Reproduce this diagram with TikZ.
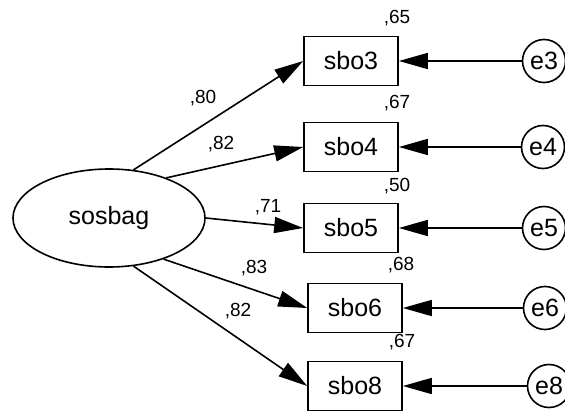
\documentclass[tikz,border=0pt]{standalone}
\usepackage{fontspec}
\setmainfont{Liberation Sans}
\usetikzlibrary{positioning}
\usetikzlibrary{shapes.geometric}
\usetikzlibrary{arrows.meta}

\begin{document}
\begin{tikzpicture}[x=1pt, y=-1pt,
  obs/.style={draw, rectangle, line width=1.6pt, minimum width=94pt, minimum height=49pt, inner sep=0pt, font=\fontsize{25}{25}\selectfont},
  err/.style={draw, circle, line width=1.6pt, minimum size=43pt, inner sep=0pt, font=\fontsize{25}{25}\selectfont},
  lat/.style={draw, ellipse, line width=1.6pt, minimum width=192pt, minimum height=98pt, inner sep=0pt, font=\fontsize{25}{25}\selectfont},
  coef/.style={inner sep=0pt, font=\fontsize{19}{19}\selectfont},
  load/.style={line width=1.6pt, -{Triangle[length=29pt,width=16pt]}}
]
% Set the size of the figure
\useasboundingbox (0,0) rectangle (565,412);

% latent variable
\node[lat] (sosbag) at (109,218) {sosbag};

% observed variables
\node[obs] (sbo3) at (351,61) {sbo3};
\node[obs] (sbo4) at (351,147) {sbo4};
\node[obs] (sbo5) at (351,228) {sbo5};
\node[obs] (sbo6) at (355,308) {sbo6};
\node[obs] (sbo8) at (355,386) {sbo8};

% error terms
\node[err] (e3) at (544,61) {e3};
\node[err] (e4) at (543,147) {e4};
\node[err] (e5) at (544,228) {e5};
\node[err] (e6) at (545,308) {e6};
\node[err] (e8) at (549,386) {e8};

% loadings
\draw[load] (sosbag.63) -- (sbo3.west);
\draw[load] (sosbag.35) -- (sbo4.west);
\draw[load] (sosbag.east) -- (sbo5.west);
\draw[load] (sosbag.-37) -- (sbo6.west);
\draw[load] (sosbag.-63) -- (sbo8.west);

\draw[load] (e3) -- (sbo3);
\draw[load] (e4) -- (sbo4);
\draw[load] (e5) -- (sbo5);
\draw[load] (e6) -- (sbo6);
\draw[load] (e8) -- (sbo8);

% standardized weights
\node[coef] (w3) at (203,98) {,80};
\node[coef] (w4) at (221,144) {,82};
\node[coef] (w5) at (268,207) {,71};
\node[coef] (w6) at (254,268) {,83};
\node[coef] (w8) at (238,311) {,82};

% squared multiple correlations
\node[coef] (r3) at (397,18) {,65};
\node[coef] (r4) at (397,103) {,67};
\node[coef] (r5) at (397,186) {,50};
\node[coef] (r6) at (401,265) {,68};
\node[coef] (r8) at (402,342) {,67};
\end{tikzpicture}
\end{document}
